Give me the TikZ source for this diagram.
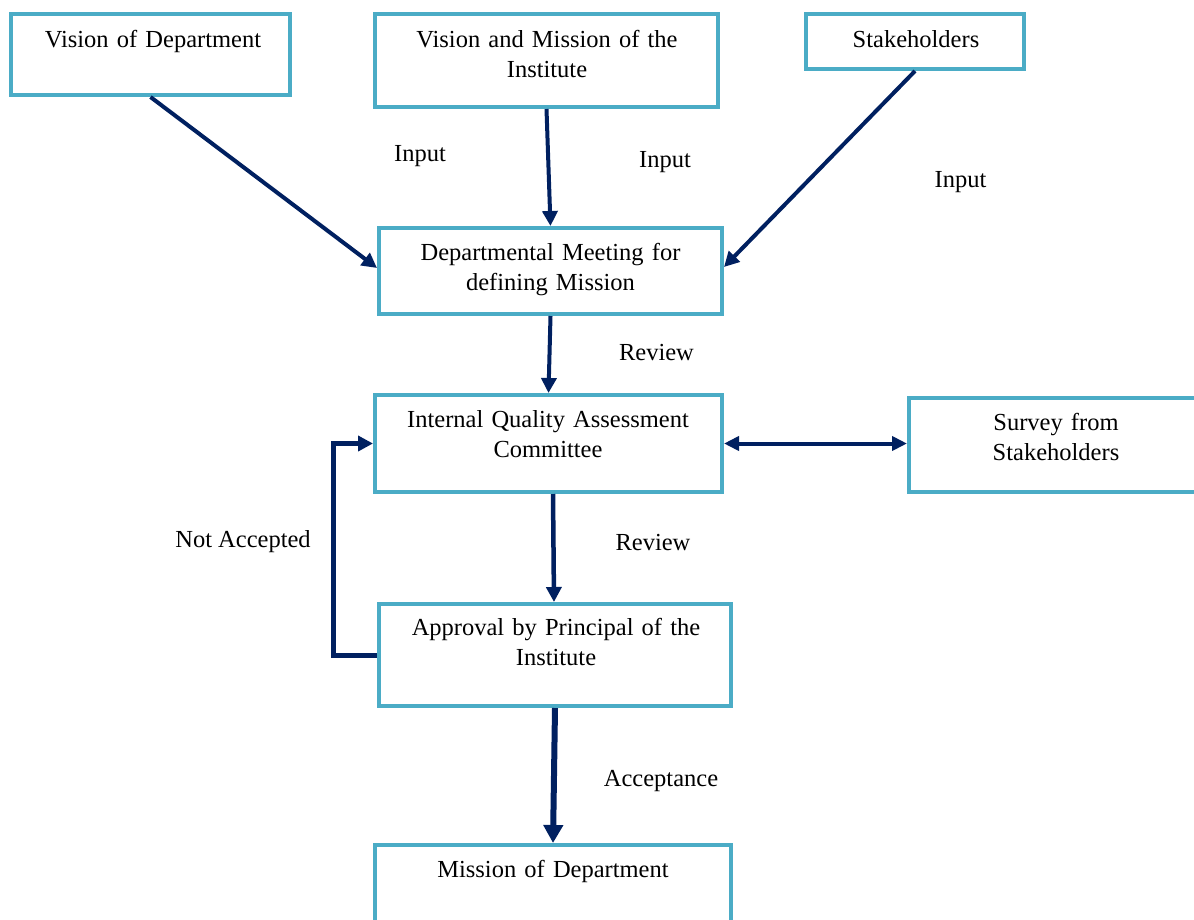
\documentclass[tikz,border=0pt]{standalone}
\usepackage{fontspec}
\setmainfont{Liberation Serif}
\usetikzlibrary{arrows.meta}
\definecolor{boxblue}{HTML}{4BACC6}
\definecolor{navy}{HTML}{002060}
\begin{document}
\begin{tikzpicture}[x=1pt,y=-1pt,
  box/.style={draw=boxblue, line width=4pt, inner sep=0pt, outer sep=2pt},
  txt/.style={font=\fontsize{24.5}{30}\selectfont, inner sep=0pt, anchor=base, align=center, text width=#1},
  txt/.default=340pt,
  lbl/.style={font=\fontsize{24.5}{30}\selectfont, inner sep=0pt, anchor=base},
  flow/.style={draw=navy, line width=4pt, -{Triangle[length=15pt,width=15pt]}},
  both/.style={draw=navy, line width=4pt, {Triangle[length=15pt,width=14pt]}-{Triangle[length=15pt,width=14pt]}}]
\useasboundingbox (0,0) rectangle (1194,919);
\fill[white] (0,0) rectangle (1194,919);
\clip (0,0) rectangle (1194,919);

% boxes
\node[box, minimum width=279pt, minimum height=81pt] (vd) at (150.5,54.5) {};
\node[box, minimum width=343pt, minimum height=93pt] (vm) at (546.5,60.5) {};
\node[box, minimum width=218pt, minimum height=55pt] (sh) at (915,41.5) {};
\node[box, minimum width=343pt, minimum height=86pt] (dm) at (550.5,271) {};
\node[box, minimum width=347pt, minimum height=97pt] (iq) at (548.5,443.5) {};
\node[box, minimum width=294pt, minimum height=94pt] (sf) at (1056,445) {};
\node[box, minimum width=352pt, minimum height=102pt] (ap) at (555,655) {};
\node[box, minimum width=356pt, minimum height=103pt] (md) at (553,896.5) {};

% box texts (first baseline)
\node[txt=279pt] (vdT) at (153,47) {Vision of Department};
\node[txt] (vmT) at (547,47) {Vision and Mission of the\\Institute};
\node[txt=218pt] (shT) at (916,47) {Stakeholders};
\node[txt] (dmT) at (550.5,260) {Departmental Meeting for\\defining Mission};
\node[txt] (iqT) at (548,427) {Internal Quality Assessment\\Committee};
\node[txt=294pt] (sfT) at (1056,430) {Survey from\\Stakeholders};
\node[txt] (apT) at (556,635) {Approval by Principal of the\\Institute};
\node[txt] (mdT) at (553,877) {Mission of Department};

% connector labels
\node[lbl] (in1) at (420,161) {Input};
\node[lbl] (in2) at (665,167) {Input};
\node[lbl] (in3) at (960.5,187) {Input};
\node[lbl] (rv1) at (656.5,360) {Review};
\node[lbl] (rv2) at (653,550) {Review};
\node[lbl] (na) at (243,547) {Not Accepted};
\node[lbl] (ac) at (661,786) {Acceptance};

% connectors
\draw[flow] (vd.south) -- ([yshift=3pt]dm.west);
\draw[flow] (vm.south) -- (dm.north);
\draw[flow] (sh.south) -- ([yshift=4pt]dm.east);
\draw[flow] (dm.south) -- (iq.north);
\draw[flow, line width=4.5pt] ([xshift=4.5pt]iq.south) -- ([xshift=-1pt]ap.north);
\draw[draw=navy, line width=6pt, -{Triangle[length=18pt,width=19pt]}] (ap.south) -- (md.north);
\draw[flow, line width=5pt] (ap.west) -- ++(-44,0) |- (iq.west);
\draw[both] (iq.east) -- (iq.east -| sf.west);
\end{tikzpicture}
\end{document}
